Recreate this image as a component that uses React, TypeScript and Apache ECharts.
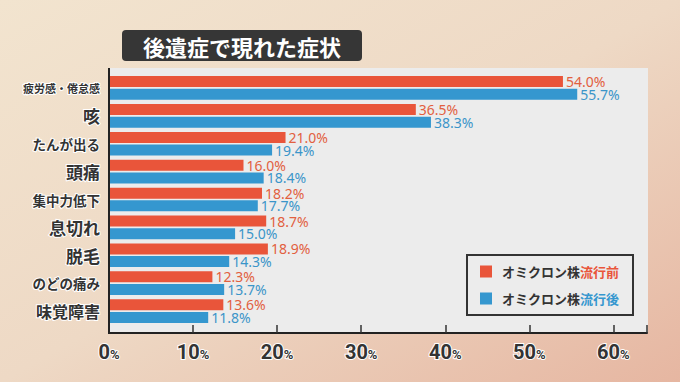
import React, { useEffect, useRef } from "react";
import * as echarts from "echarts";

const categories = ["疲労感・倦怠感", "咳", "たんが出る", "頭痛", "集中力低下", "息切れ", "脱毛", "のどの痛み", "味覚障害"];
const beforeValues = [54.0, 36.5, 21.0, 16.0, 18.2, 18.7, 18.9, 12.3, 13.6];
const afterValues = [55.7, 38.3, 19.4, 18.4, 17.7, 15.0, 14.3, 13.7, 11.8];
const seriesNames = ["オミクロン株流行前", "オミクロン株流行後"];
const xTicks = [0, 10, 20, 30, 40, 50, 60];
const title = "後遺症で現れた症状";

const RED = "#e9553a";
const BLUE = "#3597cf";
const FONT = "'Noto Sans CJK JP', 'Noto Sans', sans-serif";

export default function App() {
  const ref = useRef<HTMLDivElement>(null);
  useEffect(() => {
    if (!ref.current) return;
    const chart = echarts.init(ref.current, undefined, { renderer: "svg" });
    const sizeKey = (s: string) => (s.length >= 7 ? "s11" : s.length >= 5 ? "s13" : s.length >= 4 ? "s16" : "s17");
    const labelBase = { fontFamily: FONT, fontWeight: "bold", color: "#333", textBorderColor: "#fff", textBorderWidth: 2 };
    const barLabel = (color: string) => ({
      show: true,
      position: "right",
      distance: 3,
      formatter: (p: any) => `${p.value.toFixed(1)}%`,
      color,
      fontSize: 14,
      lineHeight: 12,
      fontFamily: "'Noto Sans', sans-serif",
    });
    chart.setOption({
      animation: false,
      backgroundColor: new echarts.graphic.LinearGradient(0, 0, 1, 1, [
        { offset: 0, color: "#f2e4cf" },
        { offset: 0.5, color: "#eed9c5" },
        { offset: 1, color: "#e6b6a1" },
      ]),
      graphic: [
        { type: "rect", shape: { x: 108, y: 68, width: 540, height: 265 }, style: { fill: "#ececec" }, z: -10 },
        { type: "line", shape: { x1: 109, y1: 68, x2: 109, y2: 334 }, style: { stroke: "#222", lineWidth: 2 }, z: 10 },
        { type: "rect", shape: { x: 122, y: 30, width: 240, height: 31, r: 4 }, style: { fill: "#363636" }, z: 5 },
        {
          type: "text", x: 242, y: 45.5, z: 6,
          style: { text: title, fill: "#fff", font: `bold 22px ${FONT}`, align: "center", verticalAlign: "middle" },
        },
      ],
      grid: { left: 109, top: 74, width: 538, height: 251 },
      legend: {
        orient: "vertical",
        left: 467,
        top: 255,
        itemWidth: 12,
        itemHeight: 12,
        itemGap: 14,
        icon: "rect",
        backgroundColor: "#ececec",
        borderColor: "#333",
        borderWidth: 2,
        padding: [10, 14, 10, 13],
        data: seriesNames,
        formatter: (name: string) => {
          const idx = seriesNames.indexOf(name);
          const tail = name.slice(6);
          return `{a|${name.slice(0, 6)}}{${idx === 0 ? "r" : "b"}|${tail}}`;
        },
        textStyle: {
          fontFamily: FONT,
          fontWeight: "bold",
          fontSize: 13,
          rich: {
            a: { fontFamily: FONT, fontWeight: "bold", fontSize: 13, color: "#333", padding: [0, 0, 0, 5] },
            r: { fontFamily: FONT, fontWeight: "bold", fontSize: 13, color: RED },
            b: { fontFamily: FONT, fontWeight: "bold", fontSize: 13, color: BLUE },
          },
        },
      },
      xAxis: {
        type: "value",
        min: 0,
        max: 64,
        interval: 10,
        offset: 8,
        axisLine: { show: true, lineStyle: { color: "#222", width: 2 } },
        axisTick: { show: true, inside: true, length: 8, lineStyle: { color: "#333", width: 1.5 } },
        splitLine: { show: false },
        axisLabel: {
          margin: 9,
          customValues: xTicks,
          formatter: (v: number) => `{n|${v}}{p|%}`,
          rich: {
            n: { ...labelBase, fontSize: 20, fontFamily: "Roboto, 'Noto Sans', sans-serif" },
            p: { ...labelBase, fontSize: 13, fontFamily: "Roboto, 'Noto Sans', sans-serif", padding: [4, 0, 0, 0] },
          },
        },
      },
      yAxis: {
        type: "category",
        data: categories,
        inverse: true,
        axisLine: { show: false },
        axisTick: { show: false },
        axisLabel: {
          margin: 9,
          formatter: (v: string) => `{${sizeKey(v)}|${v}}`,
          rich: {
            s11: { ...labelBase, fontSize: 11 },
            s13: { ...labelBase, fontSize: 13.5 },
            s16: { ...labelBase, fontSize: 16 },
            s17: { ...labelBase, fontSize: 17 },
          },
        },
      },
      series: [
        {
          name: seriesNames[0],
          type: "bar",
          data: beforeValues,
          barWidth: 11,
          barGap: "15%",
          itemStyle: { color: RED },
          label: barLabel("#e2603f"),
        },
        {
          name: seriesNames[1],
          type: "bar",
          data: afterValues,
          barWidth: 11,
          barGap: "15%",
          itemStyle: { color: BLUE },
          label: barLabel("#3b95c9"),
        },
      ],
    });
    return () => chart.dispose();
  }, []);
  return <div ref={ref} style={{ position: "absolute", left: 0, top: 0, width: 680, height: 382 }} />;
}
